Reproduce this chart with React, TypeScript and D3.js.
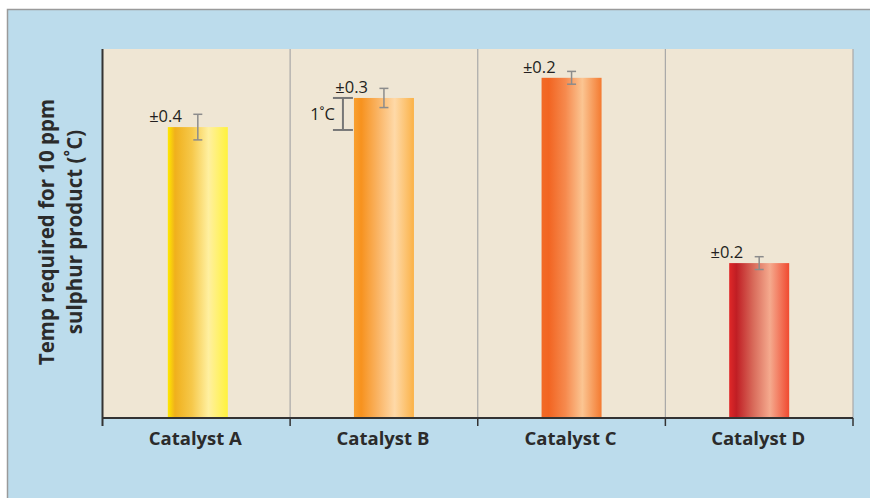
import React from "react";
import * as d3 from "d3";

const categories = ["Catalyst A", "Catalyst B", "Catalyst C", "Catalyst D"];
// temperature relative to the axis baseline (°C)
const values = [9.09, 10.0, 10.63, 4.84];
const errors = [0.4, 0.3, 0.2, 0.2];
const errorLabels = ["±0.4", "±0.3", "±0.2", "±0.2"];
const yTitleLines = ["Temp required for 10 ppm", "sulphur product (˚C)"];
const scaleBarLabel = "1˚C";
const scaleBarValue = 1;

const gradients = [
  ["#ffe800", "#f0b01c", "#f6c84a", "#fff0a0", "#fff23c"],
  ["#f8a030", "#f7921e", "#fab464", "#fed9a8", "#fbb247"],
  ["#f26a26", "#f26522", "#f68a4e", "#fbc592", "#f47a30"],
  ["#e02828", "#c01e24", "#d86a5a", "#f5aa8e", "#f04a30"],
];
const stops = [0, 0.12, 0.4, 0.68, 1];

export default function App() {
  const W = 870, H = 498;
  const left = 102.5, right = 853, top = 49, bottom = 418;
  const x = d3.scaleBand<string>().domain(categories).range([left, right]).padding(0);
  const y = d3.scaleLinear().domain([0, 11.53]).range([bottom, top]);
  const barW = 60;
  const font = "'Open Sans', 'Noto Sans', sans-serif";
  const boundaries = categories.map((c) => x(c)!).concat([right]);
  const bx = x(categories[1])! + x.bandwidth() / 2 - barW / 2 - 11;

  return (
    <svg width={W} height={H} style={{ position: "absolute", left: 0, top: 0 }}>
      <defs>
        {gradients.map((g, i) => (
          <linearGradient key={i} id={`g${i}`} x1="0" x2="1" y1="0" y2="0">
            {g.map((c, j) => (
              <stop key={j} offset={stops[j]} stopColor={c} />
            ))}
          </linearGradient>
        ))}
      </defs>
      <rect x={0} y={0} width={W} height={H} fill="#ffffff" />
      <rect x={7.5} y={9.5} width={W} height={H} fill="#bcdcec" stroke="#9a9a9a" strokeWidth={1.5} />
      <rect x={left} y={top} width={right - left} height={bottom - top} fill="#efe6d4" />
      {boundaries.slice(1).map((b, i) => (
        <line key={i} x1={b} x2={b} y1={top} y2={bottom} stroke="#a8a8a8" strokeWidth={1.2} />
      ))}
      {categories.map((c, i) => {
        const cx = x(c)! + x.bandwidth() / 2 + (i === 0 ? 1.5 : 0);
        const yt = y(values[i]);
        return (
          <g key={c}>
            <rect x={cx - barW / 2} y={yt} width={barW} height={bottom - yt} fill={`url(#g${i})`} />
            <line x1={cx} x2={cx} y1={y(values[i] + errors[i])} y2={y(values[i] - errors[i])} stroke="#8c8c8c" strokeWidth={1.5} />
            <line x1={cx - 4.5} x2={cx + 4.5} y1={y(values[i] + errors[i])} y2={y(values[i] + errors[i])} stroke="#8c8c8c" strokeWidth={1.5} />
            <line x1={cx - 4.5} x2={cx + 4.5} y1={y(values[i] - errors[i])} y2={y(values[i] - errors[i])} stroke="#8c8c8c" strokeWidth={1.5} />
            <text x={cx - barW / 2 + 14} y={yt - 5} textAnchor="end" fontFamily={font} fontSize={16.5} fill="#231f20">
              {errorLabels[i]}
            </text>
            <text x={x(c)! + x.bandwidth() / 2 - 1} y={445} textAnchor="middle" fontFamily={font} fontSize={18.5} fontWeight="bold" fill="#2b2b2b">
              {c}
            </text>
          </g>
        );
      })}
      {/* scale bar */}
      <g stroke="#777" strokeWidth={2}>
        <line x1={bx} x2={bx} y1={y(values[1])} y2={y(values[1] - scaleBarValue)} />
        <line x1={bx - 10} x2={bx + 10} y1={y(values[1])} y2={y(values[1])} />
        <line x1={bx - 10} x2={bx + 10} y1={y(values[1] - scaleBarValue)} y2={y(values[1] - scaleBarValue)} />
      </g>
      <text x={bx - 8} y={120} textAnchor="end" fontFamily={font} fontSize={16.5} fill="#231f20">
        {scaleBarLabel}
      </text>
      {/* axes */}
      <line x1={left} x2={right} y1={bottom} y2={bottom} stroke="#333" strokeWidth={2} />
      <line x1={left} x2={left} y1={top} y2={bottom + 8} stroke="#333" strokeWidth={2} />
      {boundaries.slice(1).map((b, i) => (
        <line key={i} x1={b} x2={b} y1={bottom} y2={bottom + 8} stroke="#333" strokeWidth={1.5} />
      ))}
      <text transform="translate(0,232) rotate(-90)" textAnchor="middle" fontFamily={font} fontSize={20.5} fontWeight="bold" fill="#2b2b2b">
        <tspan x={0} y={54}>{yTitleLines[0]}</tspan>
        <tspan x={0} y={82}>{yTitleLines[1]}</tspan>
      </text>
    </svg>
  );
}
